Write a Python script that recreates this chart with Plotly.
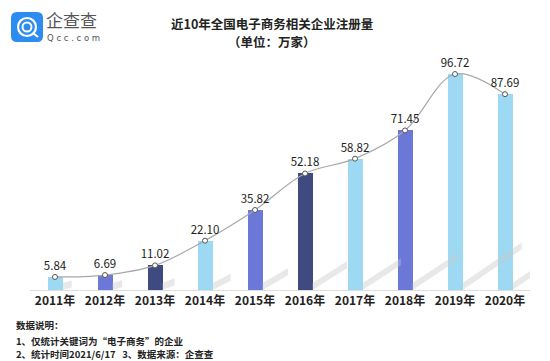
import plotly.graph_objects as go

years = ["2011年", "2012年", "2013年", "2014年", "2015年", "2016年", "2017年", "2018年", "2019年", "2020年"]
values = [5.84, 6.69, 11.02, 22.10, 35.82, 52.18, 58.82, 71.45, 96.72, 87.69]
labels = ["5.84", "6.69", "11.02", "22.10", "35.82", "52.18", "58.82", "71.45", "96.72", "87.69"]

LIGHT, MID, DARK = "#9dd9f3", "#6b78d8", "#3e4a80"
bar_colors = [LIGHT, MID, DARK, LIGHT, MID, DARK, LIGHT, MID, LIGHT, LIGHT]

# the page body has an 8px default margin; lay out in window pixels and compensate
OFF = 8
WIN_W, WIN_H = 550, 361
W, H = WIN_W - OFF, WIN_H - OFF
PLOT_L, PLOT_R, PLOT_T, PLOT_B = 30, 530, 44, 290  # window pixels
ML = PLOT_L - OFF
MR = W - (PLOT_R - OFF)
MT = PLOT_T - OFF
MB = H - (PLOT_B - OFF)
plot_w = PLOT_R - PLOT_L
plot_h = PLOT_B - PLOT_T
px_per_cat = plot_w / 10.0
px_per_unit = 2.233
ymax = plot_h / px_per_unit

FONT = "Noto Sans CJK SC"
xs = list(range(len(years)))

fig = go.Figure()

# decorative cast shadows derived from each bar
bw = 0.3
for i, v in enumerate(values):
    x0 = i + bw / 2
    dx = (0.55 * v + 6) / px_per_cat
    dy = (0.42 * v) / px_per_unit
    t = 7 / px_per_unit
    fig.add_trace(go.Scatter(
        x=[x0, x0, x0 + dx, x0 + dx, x0],
        y=[0, t, dy + t, dy, 0],
        mode="lines", fill="toself",
        fillcolor="rgba(200,200,200,0.42)", line=dict(width=0),
        hoverinfo="skip", showlegend=False))

fig.add_trace(go.Bar(
    x=xs, y=values, width=bw, marker=dict(color=bar_colors, line=dict(width=0)),
    showlegend=False))

fig.add_trace(go.Scatter(
    x=xs, y=values, mode="lines+markers+text",
    line=dict(color="#a8a8a8", width=1.2, shape="spline", smoothing=1.0),
    marker=dict(size=5, color="white", line=dict(color="#555555", width=1)),
    text=labels, textposition="top center",
    textfont=dict(family=FONT, size=11.5, color="#222222"),
    showlegend=False))

def px2paper(px, py):
    return (px - PLOT_L) / plot_w, (PLOT_B - py) / plot_h

annotations = []
def add_text(txt, px, py, size, color="#222222", bold=False, xanchor="left", family=FONT):
    x, y = px2paper(px, py)
    annotations.append(dict(
        text=("<b>%s</b>" % txt) if bold else txt, x=x, y=y, xref="paper", yref="paper",
        xanchor=xanchor, yanchor="middle", showarrow=False, borderpad=0,
        font=dict(family=family, size=size, color=color)))

add_text("近10年全国电子商务相关企业注册量", 272, 23.5, 12.5, bold=True, xanchor="center")
add_text("（单位：万家）", 272, 41, 12.5, bold=True, xanchor="center")

add_text("企查查", 45, 20, 17, color="#555555")
add_text("Q c c . c o m", 46, 38, 8.5, color="#555555", family="DejaVu Sans")

add_text("数据说明：", 15, 325, 9.5, bold=True)
add_text("1、仅统计关键词为“电子商务”的企业", 15, 341, 9.5, bold=True)
add_text("2、统计时间2021/6/17\u00a0\u00a0\u00a03、数据来源：企查查", 15, 354, 9.5, bold=True)

shapes = []
# logo icon: rounded square
def rounded_path(x0p, y0p, x1p, y1p, r):
    def P(px, py):
        x, y = px2paper(px, py)
        return "%f,%f" % (x, y)
    return "M %s L %s Q %s %s L %s Q %s %s L %s Q %s %s L %s Q %s %s Z" % (
        P(x0p + r, y0p), P(x1p - r, y0p), P(x1p, y0p), P(x1p, y0p + r),
        P(x1p, y1p - r), P(x1p, y1p), P(x1p - r, y1p),
        P(x0p + r, y1p), P(x0p, y1p), P(x0p, y1p - r),
        P(x0p, y0p + r), P(x0p, y0p), P(x0p + r, y0p))

shapes.append(dict(type="path", xref="paper", yref="paper", path=rounded_path(11, 12, 43, 42, 6),
                   fillcolor="#2d8cf0", line=dict(width=0), layer="above"))
for r, wdt in [(9, 2.2), (4.5, 2.0)]:
    cx0, cy0 = px2paper(27 - r, 27 + r)
    cx1, cy1 = px2paper(27 + r, 27 - r)
    shapes.append(dict(type="circle", xref="paper", yref="paper", x0=cx0, y0=cy0, x1=cx1, y1=cy1,
                       line=dict(color="white", width=wdt), layer="above"))
tx0, ty0 = px2paper(33, 33)
tx1, ty1 = px2paper(38, 37)
shapes.append(dict(type="line", xref="paper", yref="paper", x0=tx0, y0=ty0, x1=tx1, y1=ty1,
                   line=dict(color="white", width=2.2), layer="above"))

fig.update_layout(
    width=W, height=H,
    margin=dict(l=ML, r=MR, t=MT, b=MB, pad=0),
    paper_bgcolor="white", plot_bgcolor="white",
    bargap=0,
    xaxis=dict(range=[-0.5, 9.5], tickmode="array", tickvals=xs,
               ticktext=["<b>%s</b>" % y for y in years],
               tickfont=dict(family=FONT, size=12, color="#222222"),
               showgrid=False, zeroline=False, showline=True, linecolor="#dddddd",
               linewidth=1, ticks="", fixedrange=True),
    yaxis=dict(range=[0, ymax], visible=False, fixedrange=True),
    annotations=annotations, shapes=shapes,
)

fig.write_html("out.html")
